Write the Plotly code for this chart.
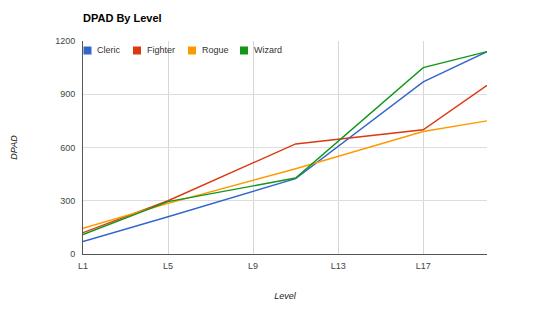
import plotly.graph_objects as go

levels = [1, 5, 11, 17, 20]
cleric = [70, 210, 425, 970, 1140]
fighter = [120, 300, 620, 700, 950]
rogue = [145, 285, 480, 690, 750]
wizard = [110, 295, 428, 1050, 1140]

series_names = ["Cleric", "Fighter", "Rogue", "Wizard"]
series_values = [cleric, fighter, rogue, wizard]
series_colors = ["#3366cc", "#dc3912", "#ff9900", "#109618"]

tick_vals = [1, 5, 9, 13, 17]
tick_text = ["L1", "L5", "L9", "L13", "L17"]

FONT = "Liberation Sans, Arial, sans-serif"

fig = go.Figure()
for name, vals, col in zip(series_names, series_values, series_colors):
    fig.add_trace(go.Scatter(x=levels, y=vals, mode="lines", name=name,
                             line=dict(color=col, width=1.4), showlegend=False))

# plot-area geometry (pixels) for manual legend layout
L, R, T, B = 83, 487, 41, 254
W, H = R - L, B - T

def px_x(px):
    return (px - L) / W

def px_y(py):
    return (B - py) / H

legend_x = [83.5, 133, 188, 240]
shapes = []
annotations = []
for name, col, lx in zip(series_names, series_colors, legend_x):
    shapes.append(dict(type="rect", xref="paper", yref="paper",
                       x0=px_x(lx), x1=px_x(lx + 8), y0=px_y(54.5), y1=px_y(46.5),
                       fillcolor=col, line=dict(width=0)))
    annotations.append(dict(xref="paper", yref="paper", x=px_x(lx + 11.5), y=px_y(50.5),
                            text=name, showarrow=False, xanchor="left", yanchor="middle",
                            font=dict(family=FONT, size=9, color="#333333")))

fig.update_layout(
    width=540, height=310,
    margin=dict(l=L, r=540 - R, t=T, b=310 - B, pad=0),
    paper_bgcolor="white", plot_bgcolor="white",
    title=dict(text="<b>DPAD By Level</b>", x=L / 540, xanchor="left",
               y=1 - 18 / 310, yanchor="middle",
               font=dict(family=FONT, size=11, color="#000000")),
    shapes=shapes, annotations=annotations,
    xaxis=dict(range=[1, 20], tickvals=tick_vals, ticktext=tick_text,
               showgrid=True, gridcolor="#d6d6d6", gridwidth=1,
               showline=True, linecolor="#555555", linewidth=1,
               zeroline=False, ticks="", ticklen=0, ticklabelstandoff=3,
               tickfont=dict(family=FONT, size=9, color="#444444"),
               title=dict(text="<i>Level</i>", standoff=22,
                          font=dict(family=FONT, size=9, color="#222222"))),
    yaxis=dict(range=[0, 1200], dtick=300, tick0=0,
               showgrid=True, gridcolor="#dddddd", gridwidth=1,
               showline=True, linecolor="#555555", linewidth=1,
               zeroline=False, ticks="", ticklen=0, ticklabelstandoff=5,
               tickfont=dict(family=FONT, size=9, color="#444444"),
               title=dict(text="<i>DPAD</i>", standoff=36,
                          font=dict(family=FONT, size=9, color="#222222"))),
)

fig.write_html("out.html")
